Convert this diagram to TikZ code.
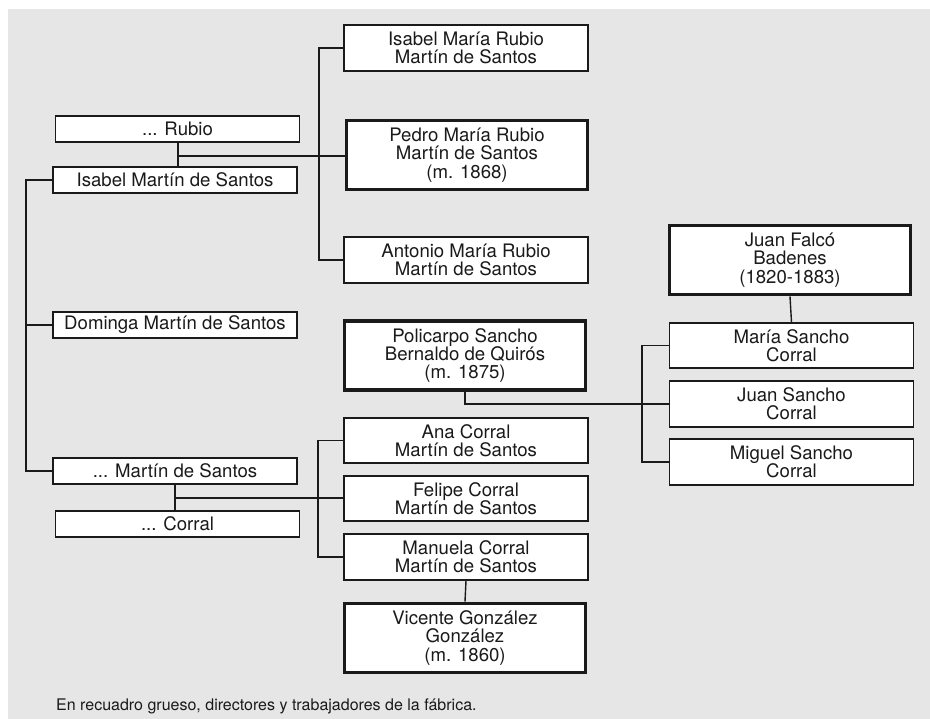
\documentclass[tikz,border=0pt]{standalone}
\usepackage{fontspec}
\setmainfont{TeX Gyre Heros}
\usepackage{xcolor}
\usetikzlibrary{positioning}

\definecolor{paper}{HTML}{E6E6E6}
\definecolor{ink}{HTML}{1A1A1A}

\begin{document}
\begin{tikzpicture}[
  x=1pt, y=-1pt,
  font=\fontsize{18.6}{18.4}\selectfont,
  person/.style={
    rectangle, draw=ink, fill=white, line width=1.5pt,
    align=center, inner sep=0pt, text=ink
  },
  onerow/.style={person, minimum width=244pt, minimum height=26pt},
  tworow/.style={person, minimum width=244pt, minimum height=46pt},
  staff/.style={person, line width=3.8pt, minimum width=241pt, minimum height=69pt},
  link/.style={draw=ink, line width=1.4pt}
]

% --- Page and grey panel ---
\useasboundingbox (0,0) rectangle (930,719);
\fill[paper] (8,9) rectangle (930,719);

% --- Left column: parents ---
\node[onerow] (rubio)   at (177.5,129) {... Rubio};
\node[onerow] (isabel)  at (175,180)   {Isabel Martín de Santos};
\node[onerow] (dominga) at (175,325)   {Dominga Martín de Santos};
\node[onerow] (msantos) at (175,471)   {... Martín de Santos};
\node[onerow] (corral)  at (177.5,524) {... Corral};

% --- Middle column: Rubio children ---
\node[tworow] (isabelm) at (466,48)  {Isabel María Rubio\\Martín de Santos};
\node[staff]  (pedro)   at (467,155) {Pedro María Rubio\\Martín de Santos\\(m. 1868)};
\node[tworow] (antonio) at (466,260) {Antonio María Rubio\\Martín de Santos};

% --- Middle column: Corral children ---
\node[staff]  (policarpo) at (465,355.5) {Policarpo Sancho\\Bernaldo de Quirós\\(m. 1875)};
\node[tworow, minimum height=45pt] (ana)    at (466,440.5) {Ana Corral\\Martín de Santos};
\node[tworow, minimum height=45pt] (felipe) at (466,498.5) {Felipe Corral\\Martín de Santos};
\node[tworow] (manuela) at (466,557) {Manuela Corral\\Martín de Santos};
\node[staff]  (vicente) at (465,638) {Vicente González\\González\\(m. 1860)};

% --- Right column: Sancho family ---
\node[staff]  (falco)  at (790,260)   {Juan Falcó\\Badenes\\(1820-1883)};
\node[tworow, minimum height=45pt] (maria) at (791.5,345.5) {María Sancho\\Corral};
\node[tworow] (juan)   at (791.5,404) {Juan Sancho\\Corral};
\node[tworow] (miguel) at (791.5,462) {Miguel Sancho\\Corral};

% --- Trunk lines and couple points ---
\coordinate (ltrunk) at (26,0);
\coordinate (rtrunk) at (319,0);
\coordinate (ctrunk) at (318,0);
\coordinate (strunk) at (642,0);
\coordinate (wedrubio)  at (178,156);
\coordinate (wedcorral) at (175,498);

% --- Martín de Santos siblings ---
\draw[link] (isabel.west) -- (isabel.west -| ltrunk) -- (msantos.west -| ltrunk) -- (msantos.west);
\draw[link] (dominga.west) -- (dominga.west -| ltrunk);

% --- Rubio marriage and children ---
\draw[link] (rubio.south -| wedrubio) -- (isabel.north -| wedrubio);
\draw[link] (wedrubio) -- (wedrubio -| pedro.west);
\draw[link] (isabelm.west) -- (isabelm.west -| rtrunk) -- (antonio.west -| rtrunk) -- (antonio.west);

% --- Corral marriage and children ---
\draw[link] (msantos.south -| wedcorral) -- (corral.north -| wedcorral);
\draw[link] (wedcorral) -- (wedcorral -| felipe.west);
\draw[link] (ana.west) -- (ana.west -| ctrunk) -- (manuela.west -| ctrunk) -- (manuela.west);
\draw[link] (manuela.south) -- (vicente.north);

% --- Sancho marriage and children ---
\draw[link] (policarpo.south) |- (juan.west);
\draw[link] (maria.west) -- (maria.west -| strunk) -- (miguel.west -| strunk) -- (miguel.west);
\draw[link] (falco.south) -- (maria.north);

% --- Note ---
\node[anchor=west, inner sep=0pt, text=ink, font=\fontsize{16}{16}\selectfont] (note) at (56,706)
  {En recuadro grueso, directores y trabajadores de la fábrica.};

\end{tikzpicture}
\end{document}
